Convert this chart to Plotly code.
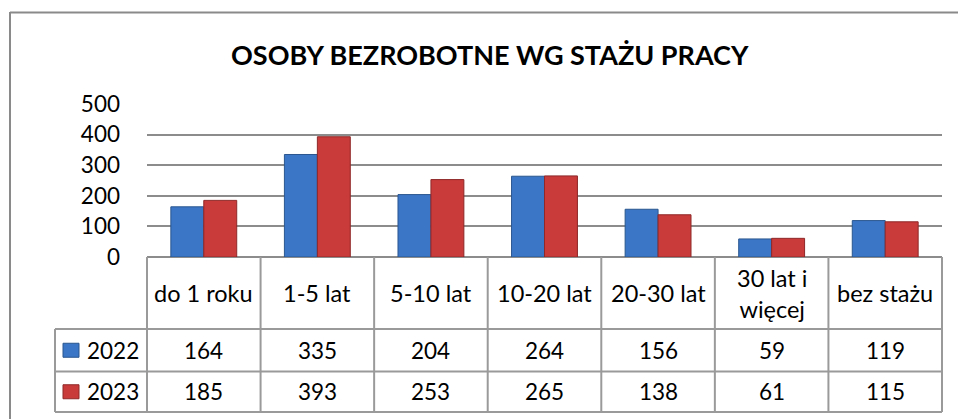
import plotly.graph_objects as go

categories = ["do 1 roku", "1-5 lat", "5-10 lat", "10-20 lat", "20-30 lat", "30 lat i<br>więcej", "bez stażu"]
series_names = ["2022", "2023"]
values_2022 = [164, 335, 204, 264, 156, 59, 119]
values_2023 = [185, 393, 253, 265, 138, 61, 115]
title_text = "OSOBY BEZROBOTNE WG STAŻU PRACY"

W, H = 958, 419
L, R, T, B = 147, 942, 104, 257
FONT = "Lato"
GRID = "#8c8c8c"
BLUE = "#3b76c6"
BLUE_EDGE = "#2a568f"
RED = "#c93a3a"
RED_EDGE = "#8f2828"

def px(x):
    return (x - L) / (R - L)

def py(y):
    return (B - y) / (B - T)

x_idx = list(range(len(categories)))

fig = go.Figure()
fig.add_trace(go.Bar(x=x_idx, y=values_2022, name=series_names[0],
                     marker=dict(color=BLUE, line=dict(color=BLUE_EDGE, width=1))))
fig.add_trace(go.Bar(x=x_idx, y=values_2023, name=series_names[1],
                     marker=dict(color=RED, line=dict(color=RED_EDGE, width=1))))

shapes = []
ann = []
# outer frame
shapes.append(dict(type="line", xref="paper", yref="paper", x0=px(10), x1=px(958), y0=py(12.5), y1=py(12.5),
                   line=dict(color="#8a8a8a", width=2)))
shapes.append(dict(type="line", xref="paper", yref="paper", x0=px(10), x1=px(10), y0=py(12), y1=py(419),
                   line=dict(color="#8a8a8a", width=2)))

# table geometry
n = len(categories)
row_y = [B, 329, 371.5, 412]
cw = (R - L) / n
tl = dict(color="#9a9a9a", width=2)
for r in (1, 2, 3):
    shapes.append(dict(type="line", xref="paper", yref="paper", x0=px(55), x1=px(R),
                       y0=py(row_y[r]), y1=py(row_y[r]), line=tl))
for i in range(n + 1):
    xx = L + i * cw
    shapes.append(dict(type="line", xref="paper", yref="paper", x0=px(xx), x1=px(xx),
                       y0=py(B), y1=py(row_y[3]), line=tl))
shapes.append(dict(type="line", xref="paper", yref="paper", x0=px(55), x1=px(55),
                   y0=py(row_y[1]), y1=py(row_y[3]), line=tl))

hf = dict(family=FONT, size=23.5, color="black")
tf = dict(family=FONT, size=22.5, color="black")
for i, c in enumerate(categories):
    cx = px(L + (i + 0.5) * cw)
    ann.append(dict(text=c, x=cx, y=py((row_y[0] + row_y[1]) / 2), xref="paper", yref="paper",
                    showarrow=False, font=hf, xanchor="center", yanchor="middle"))
    ann.append(dict(text=str(values_2022[i]), x=cx, y=py((row_y[1] + row_y[2]) / 2), xref="paper", yref="paper",
                    showarrow=False, font=tf, xanchor="center", yanchor="middle"))
    ann.append(dict(text=str(values_2023[i]), x=cx, y=py((row_y[2] + row_y[3]) / 2), xref="paper", yref="paper",
                    showarrow=False, font=tf, xanchor="center", yanchor="middle"))

for k, (nm, col, edge) in enumerate([(series_names[0], BLUE, BLUE_EDGE), (series_names[1], RED, RED_EDGE)]):
    yc = (row_y[1 + k] + row_y[2 + k]) / 2
    shapes.append(dict(type="rect", xref="paper", yref="paper", x0=px(63), x1=px(79), y0=py(yc - 7), y1=py(yc + 7),
                       fillcolor=col, line=dict(color=edge, width=1)))
    ann.append(dict(text=nm, x=px(85), y=py(yc), xref="paper", yref="paper", showarrow=False, font=tf,
                    xanchor="left", yanchor="middle"))

ann.append(dict(text="<b>" + title_text + "</b>", x=px(490), y=py(54), xref="paper", yref="paper",
                showarrow=False, font=dict(family=FONT, size=27, color="black"), xanchor="center", yanchor="middle"))

fig.update_layout(
    width=W, height=H,
    margin=dict(l=L, r=W - R, t=T, b=H - B),
    paper_bgcolor="white", plot_bgcolor="white",
    showlegend=False,
    barmode="group", bargap=0.42, bargroupgap=0,
    shapes=shapes, annotations=ann,
    xaxis=dict(range=[-0.5, n - 0.5], showticklabels=False, showgrid=False, zeroline=False, showline=False),
    yaxis=dict(range=[0, 500], dtick=100, showgrid=True, gridcolor=GRID, gridwidth=2, zeroline=True,
               zerolinecolor=GRID, zerolinewidth=2, showline=False,
               tickfont=dict(family=FONT, size=22.5, color="black"), ticklabelstandoff=26),
)

fig.write_html("out.html", config={"displayModeBar": False},
               post_script="document.body.style.margin='0';document.body.style.overflow='hidden';")
